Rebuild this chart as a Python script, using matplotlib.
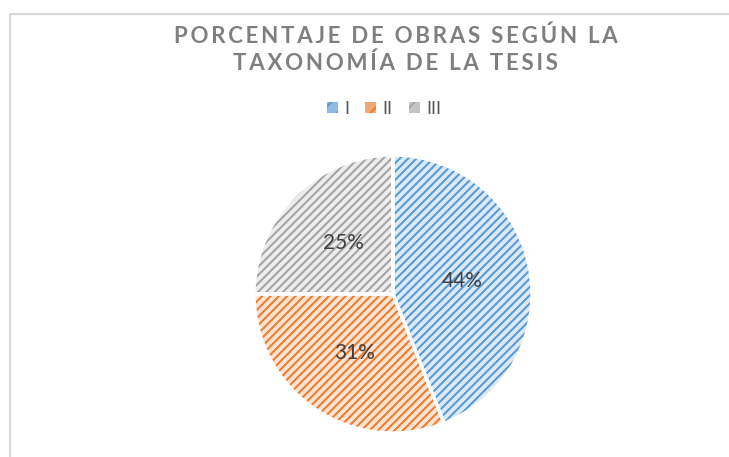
import matplotlib.pyplot as plt
from matplotlib.patches import Patch

plt.rcParams['font.family'] = ['Lato', 'DejaVu Sans']
plt.rcParams['hatch.linewidth'] = 1.5

categories = ["I", "II", "III"]
shares = [44, 31, 25]
title_lines = ["PORCENTAJE DE OBRAS SEGÚN LA", "TAXONOMÍA DE LA TESIS"]

main_colors = ["#5B9BD5", "#ED7D31", "#A5A5A5"]
light_colors = ["#DCEAF7", "#FCE4D4", "#EDEDED"]
legend_fill = ["#8FBBE6", "#F3A772", "#C4C4C4"]

W, H = 729, 457
fig = plt.figure(figsize=(W / 100, H / 100), dpi=100)
ax = fig.add_axes([0, 0, 1, 1])

center = (393, H - 294)
radius = 139

# hatched fill, then white separators on top
wedges, _ = ax.pie(shares, colors=light_colors, startangle=90, counterclock=False,
                   center=center, radius=radius, frame=True,
                   wedgeprops=dict(linewidth=0))
for w, c in zip(wedges, main_colors):
    w.set_edgecolor(c)
    w.set_hatch('////')
ax.pie(shares, startangle=90, counterclock=False, center=center, radius=radius,
       frame=True, colors=['none'] * 3,
       wedgeprops=dict(edgecolor='white', linewidth=2.4))
ax.set_xlim(0, W)
ax.set_ylim(0, H)
ax.set_aspect('equal')
ax.axis('off')

label_pos = [(462, 281), (355, 353), (343, 243)]
for (px, py), v in zip(label_pos, shares):
    ax.text(px, H - py, f"{v}%", ha='center', va='center', fontsize=15,
            color='#404040')

# letter-spaced title
for i, line in enumerate(title_lines):
    spaced = "\u2009".join(line)
    ax.text(396, H - (36 + 27 * i), spaced, ha='center', va='center',
            fontsize=16, fontweight='bold', color='#7F7F7F')

handles = [Patch(facecolor=f, edgecolor=c, hatch='//', linewidth=0)
           for f, c in zip(legend_fill, main_colors)]
leg = ax.legend(handles, categories, loc='center', bbox_to_anchor=(384 / W, 1 - 109 / H),
                ncol=3, frameon=False, fontsize=13, handlelength=0.6, handleheight=0.6,
                handletextpad=0.35, columnspacing=0.9, labelcolor='#595959')

# chart frame
ax.plot([10, W], [H - 14, H - 14], color='#D9D9D9', lw=1.5, solid_capstyle='butt')
ax.plot([10, 10], [H - 14, 0], color='#D9D9D9', lw=1.5, solid_capstyle='butt')

fig.savefig("out.png", dpi=100)
